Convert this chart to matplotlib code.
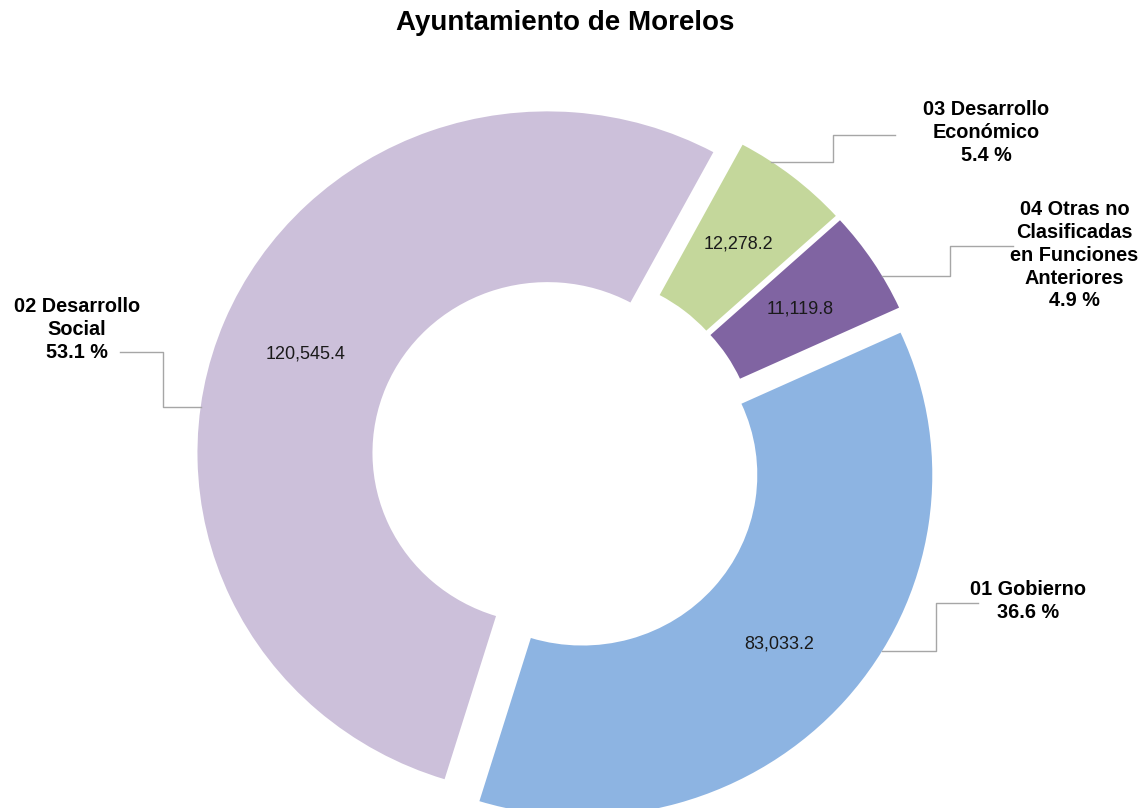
import matplotlib
matplotlib.use("Agg")
import matplotlib.pyplot as plt
import numpy as np

plt.rcParams['font.family'] = ['Liberation Sans', 'DejaVu Sans']

# datos del gráfico
categorias = ["01 Gobierno", "02 Desarrollo\nSocial", "03 Desarrollo\nEconómico",
              "04 Otras no\nClasificadas\nen Funciones\nAnteriores"]
montos = [83033.2, 120545.4, 12278.2, 11119.8]
colores = ["#8DB4E2", "#CCC0DA", "#C4D79B", "#8064A2"]

# guías de las etiquetas: ángulo de anclaje, tramos (h1, v, h2) y desplazamiento del texto
ang_guia = [-31.0, 172.2, 56.2, 30.5]
tramos = [(54, 48, 42), (-38, 55, -43), (62, 27, 62), (68, 30, 63)]
despl_etq = [(50, 2), (-43, 22), (91, 2), (61, -9)]

total = sum(montos)
R = 350
k = 1.025  # el original está un poco achatado en vertical

fig = plt.figure(figsize=(11.45, 8.08), dpi=100)
ax = fig.add_axes([0, 0, 1, 1])
wedges, _ = ax.pie(montos, colors=colores, startangle=24.6, counterclock=False,
                   radius=R, center=(565, (808 - 460) * k), explode=[23, 19, 19, 19],
                   wedgeprops=dict(width=R * 0.5, linewidth=0))
ax.set_aspect('auto')
ax.set_xlim(0, 1145)
ax.set_ylim(0, 808 * k)
ax.axis('off')

for w, v, cat, a, (h1, dv, h2), (tx, ty) in zip(wedges, montos, categorias,
                                                 ang_guia, tramos, despl_etq):
    cx, cy = w.center
    m = np.deg2rad((w.theta1 + w.theta2) / 2)
    rr = 0.75 * R
    ax.text(cx + rr * np.cos(m), cy + rr * np.sin(m), f"{v:,.1f}",
            ha='center', va='center', fontsize=13, color='#1a1a1a')

    # línea guía en escalón
    ar = np.deg2rad(a)
    x0, y0 = cx + R * np.cos(ar), cy + R * np.sin(ar)
    xs = [x0, x0 + h1, x0 + h1, x0 + h1 + h2]
    ys = [y0, y0, y0 + dv * k, y0 + dv * k]
    ax.plot(xs, ys, color='#A6A6A6', lw=1)

    pct = v / total * 100
    ax.text(xs[-1] + tx, ys[-1] + ty * k, f"{cat}\n{pct:.1f} %", ha='center', va='center',
            fontsize=14.3, fontweight='bold', linespacing=1.25)

fig.text(0.494, 1 - 23 / 808, "Ayuntamiento de Morelos", ha='center', va='center',
         fontsize=20, fontweight='bold')

fig.savefig("out.png", dpi=100)
